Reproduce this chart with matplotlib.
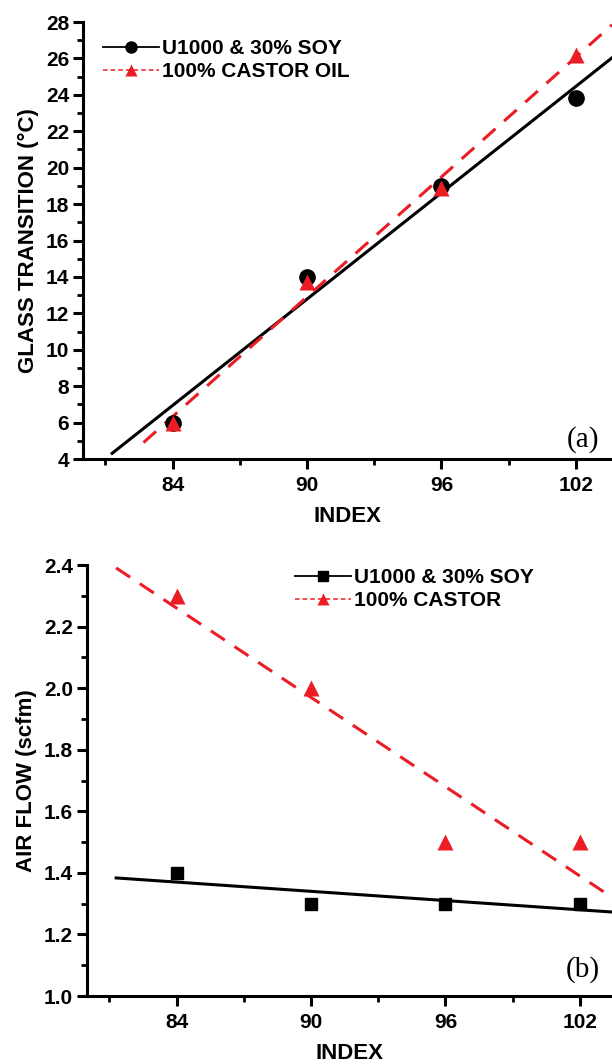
import numpy as np
import matplotlib
matplotlib.use("Agg")
import matplotlib.pyplot as plt
from matplotlib.lines import Line2D

plt.rcParams['font.family'] = ['Liberation Sans', 'DejaVu Sans']
plt.rcParams['font.weight'] = 'bold'

index = [84, 90, 96, 102]

# (a) glass transition
tg_soy = [6.0, 14.0, 19.0, 23.8]
tg_castor = [6.0, 13.7, 18.9, 26.2]

# (b) air flow
air_soy = [1.4, 1.3, 1.3, 1.3]
air_castor = [2.3, 2.0, 1.5, 1.5]

RED = '#ec1c24'
W, H = 612, 1064
FS = 15
LFS = 16

fig = plt.figure(figsize=(W / 100, H / 100), dpi=100)


def fit_line(ax, x, y, x0, x1, **kw):
    p = np.polyfit(x, y, 1)
    xs = np.array([x0, x1])
    ax.plot(xs, np.polyval(p, xs), **kw)


def style_axes(ax, ylim, major, minor, fmt):
    ax.set_xlim(80, 80 + (W - ax.get_position().x0 * W) / 22.4)
    ax.set_ylim(*ylim)
    ax.spines['top'].set_visible(False)
    ax.spines['right'].set_visible(False)
    for s in ('left', 'bottom'):
        ax.spines[s].set_linewidth(2.2)
    ax.set_xticks(index)
    ax.set_xticks([81, 87, 93, 99], minor=True)
    ax.set_yticks(major)
    ax.set_yticks(minor, minor=True)
    ax.set_yticklabels([fmt.format(v) for v in major])
    ax.tick_params(which='major', direction='out', length=7, width=2.2,
                   labelsize=FS, pad=3)
    ax.tick_params(which='minor', direction='out', length=4, width=2.0)
    ax.tick_params(axis='x', which='major', pad=5)
    ax.set_xlabel('INDEX', fontsize=LFS, fontweight='bold', labelpad=8)


# ---- (a) ----
ax1 = fig.add_axes([83 / W, 1 - 459 / H, (W - 83) / W, (459 - 22) / H])
style_axes(ax1, (4, 28), np.arange(4, 29, 2), np.arange(5, 28, 2), '{:.0f}')
xr = ax1.get_xlim()[1]
fit_line(ax1, index, tg_soy, 81.3, xr, color='black', lw=2.2, zorder=2)
fit_line(ax1, index, tg_castor, 82.7, xr, color=RED, lw=2.2,
         ls=(0, (5.5, 3.8)), zorder=2)
ax1.plot(index, tg_soy, 'o', color='black', ms=11, zorder=3)
ax1.plot(index, tg_castor, '^', color=RED, ms=11, mec='none', zorder=4)
ax1.set_ylabel('GLASS TRANSITION (\u00b0C)', fontsize=LFS, fontweight='bold',
               labelpad=5)
ax1.text(583 / W, 1 - 440 / H, '(a)', transform=fig.transFigure,
         family='Liberation Serif', fontweight='normal', fontsize=21,
         ha='center', va='center')
h1 = [Line2D([], [], color='black', lw=1.3, marker='o', ms=8),
      Line2D([], [], color=RED, lw=1.1, ls=(0, (3, 2)), marker='^', ms=8,
             mec='none')]
ax1.legend(h1, ['U1000 & 30% SOY', '100% CASTOR OIL'], loc='upper left',
           bbox_to_anchor=(103 / W, 1 - 39 / H), bbox_transform=fig.transFigure,
           frameon=False, fontsize=FS, handlelength=2.7, handletextpad=0.15,
           labelspacing=0.2, borderpad=0, borderaxespad=0)

# ---- (b) ----
ax2 = fig.add_axes([87 / W, 1 - 996 / H, (W - 87) / W, (996 - 565) / H])
style_axes(ax2, (1.0, 2.4), np.arange(1.0, 2.41, 0.2),
           np.arange(1.1, 2.4, 0.2), '{:.1f}')
xr = ax2.get_xlim()[1]
fit_line(ax2, index, air_soy, 81.3, xr, color='black', lw=2.2, zorder=2)
fit_line(ax2, index, air_castor, 81.3, xr, color=RED, lw=2.2,
         ls=(0, (5.5, 3.8)), zorder=2)
ax2.plot(index, air_soy, 's', color='black', ms=9, zorder=3)
ax2.plot(index, air_castor, '^', color=RED, ms=11, mec='none', zorder=4)
ax2.set_ylabel('AIR FLOW (scfm)', fontsize=LFS, fontweight='bold', labelpad=5)
ax2.text(583 / W, 1 - 970 / H, '(b)', transform=fig.transFigure,
         family='Liberation Serif', fontweight='normal', fontsize=21,
         ha='center', va='center')
h2 = [Line2D([], [], color='black', lw=1.3, marker='s', ms=7),
      Line2D([], [], color=RED, lw=1.1, ls=(0, (3, 2)), marker='^', ms=8,
             mec='none')]
ax2.legend(h2, ['U1000 & 30% SOY', '100% CASTOR'], loc='upper left',
           bbox_to_anchor=(295 / W, 1 - 568 / H), bbox_transform=fig.transFigure,
           frameon=False, fontsize=FS, handlelength=2.7, handletextpad=0.15,
           labelspacing=0.2, borderpad=0, borderaxespad=0)

fig.savefig('out.png', dpi=100)
